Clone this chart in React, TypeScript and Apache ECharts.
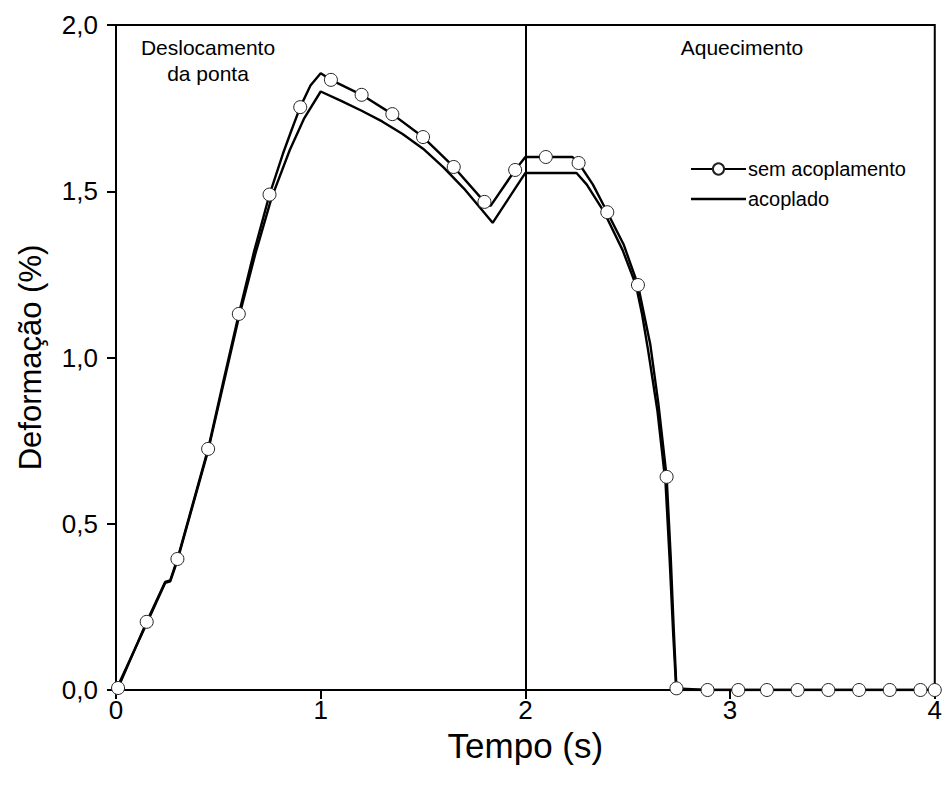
import React, { useEffect, useRef } from "react";
import * as echarts from "echarts";

// "sem acoplamento": marker points (open circles)
const semMarkX = [0.01, 0.15, 0.30, 0.45, 0.60, 0.75, 0.90, 1.05, 1.20, 1.35, 1.50, 1.65, 1.80, 1.95, 2.10, 2.26, 2.40, 2.55, 2.69, 2.738, 2.89, 3.04, 3.18, 3.33, 3.48, 3.63, 3.78, 3.93, 4.0];
const semMarkY = [0.006, 0.205, 0.394, 0.725, 1.131, 1.49, 1.753, 1.835, 1.79, 1.732, 1.663, 1.573, 1.468, 1.564, 1.603, 1.585, 1.437, 1.218, 0.641, 0.005, 0, 0, 0, 0, 0, 0, 0, 0, 0];
// "sem acoplamento": extra line vertices (no marker)
const semLineX = [0, 0.24, 0.265, 0.525, 0.675, 0.815, 0.86, 0.95, 1.0, 1.83, 2.0, 2.23, 2.33, 2.48, 2.61, 2.65, 2.71, 2.725];
const semLineY = [0, 0.325, 0.33, 0.93, 1.32, 1.612, 1.688, 1.818, 1.855, 1.456, 1.603, 1.603, 1.52, 1.34, 1.04, 0.86, 0.40, 0.18];

// "acoplado": line vertices
const acoX = [0, 0.15, 0.24, 0.265, 0.30, 0.45, 0.60, 0.68, 0.76, 0.849, 0.92, 1.0, 1.1, 1.2, 1.3, 1.4, 1.5, 1.6, 1.7, 1.84, 2.0, 2.25, 2.3, 2.385, 2.475, 2.54, 2.57, 2.6, 2.645, 2.685, 2.705, 2.722, 2.737, 4.0];
const acoY = [0, 0.2, 0.322, 0.327, 0.39, 0.72, 1.12, 1.31, 1.48, 1.624, 1.72, 1.80, 1.772, 1.742, 1.71, 1.672, 1.628, 1.572, 1.508, 1.405, 1.555, 1.555, 1.52, 1.437, 1.323, 1.218, 1.13, 1.02, 0.84, 0.62, 0.39, 0.17, 0, 0];

const xTicks = [0, 1, 2, 3, 4];
const yTicks = [0, 0.5, 1.0, 1.5, 2.0];
const phaseBoundary = 2;

const FONT = "Liberation Sans, Arial, sans-serif";

export default function App() {
  const ref = useRef<HTMLDivElement>(null);
  useEffect(() => {
    if (!ref.current) return;
    const chart = echarts.init(ref.current, undefined, { renderer: "svg" });

    const pts: { x: number; y: number; m: boolean }[] = [];
    semMarkX.forEach((x, i) => pts.push({ x, y: semMarkY[i], m: true }));
    semLineX.forEach((x, i) => pts.push({ x, y: semLineY[i], m: false }));
    pts.sort((a, b) => a.x - b.x);
    const semData = pts.map((p) =>
      p.m ? { value: [p.x, p.y] } : { value: [p.x, p.y], symbol: "none" }
    );
    const acoData = acoX.map((x, i) => [x, acoY[i]]);

    chart.setOption({
      animation: false,
      backgroundColor: "#fff",
      grid: {
        left: 116,
        right: 9,
        top: 25,
        bottom: 108,
        show: true,
        borderColor: "#000",
        borderWidth: 2,
      },
      legend: {
        orient: "vertical",
        left: 690,
        top: 159,
        itemWidth: 55,
        itemHeight: 14,
        itemGap: 10,
        padding: 0,
        textStyle: { fontFamily: FONT, fontSize: 20, color: "#000", padding: [0, 0, 0, -3] },
        data: [
          { name: "sem acoplamento" },
          { name: "acoplado", icon: "path://M0,0 L55,0 L55,2.4 L0,2.4 Z" },
        ],
      },
      xAxis: {
        type: "value",
        min: xTicks[0],
        max: xTicks[xTicks.length - 1],
        interval: 1,
        name: "Tempo (s)",
        nameLocation: "middle",
        nameGap: 37,
        nameTextStyle: { fontFamily: FONT, fontSize: 35, color: "#000" },
        axisLine: { lineStyle: { color: "#000", width: 2 } },
        axisTick: { inside: false, length: 9, lineStyle: { color: "#000", width: 2 } },
        axisLabel: { fontFamily: FONT, fontSize: 26, color: "#000", margin: 7 },
        splitLine: { show: false },
      },
      yAxis: {
        type: "value",
        min: yTicks[0],
        max: yTicks[yTicks.length - 1],
        interval: 0.5,
        name: "Deformação (%)",
        nameLocation: "middle",
        nameGap: 70,
        nameTextStyle: { fontFamily: FONT, fontSize: 31, color: "#000" },
        axisLine: { lineStyle: { color: "#000", width: 2 } },
        axisTick: { inside: false, length: 9, lineStyle: { color: "#000", width: 2 } },
        axisLabel: {
          fontFamily: FONT,
          fontSize: 26,
          color: "#000",
          margin: 18,
          formatter: (v: number) => v.toFixed(1).replace(".", ","),
        },
        splitLine: { show: false },
      },
      series: [
        {
          name: "sem acoplamento",
          type: "line",
          data: semData,
          symbol: "circle",
          symbolSize: 13,
          showSymbol: true,
          showAllSymbol: true,
          lineStyle: { color: "#000", width: 2.4 },
          itemStyle: { color: "#fff", borderColor: "#222", borderWidth: 1 },
          z: 3,
        },
        {
          name: "acoplado",
          type: "line",
          data: acoData,
          symbol: "none",
          lineStyle: { color: "#000", width: 2.4 },
          itemStyle: { color: "#000" },
          z: 2,
          markLine: {
            silent: true,
            symbol: "none",
            label: { show: false },
            lineStyle: { color: "#000", width: 2, type: "solid" },
            data: [{ xAxis: phaseBoundary }],
          },
        },
      ],
      graphic: [
        {
          type: "text",
          x: 208,
          y: 34,
          style: {
            text: "Deslocamento\nda ponta",
            fontFamily: FONT,
            fontSize: 21,
            fill: "#000",
            align: "center",
            lineHeight: 26,
          },
        },
        {
          type: "text",
          x: 742,
          y: 34,
          style: { text: "Aquecimento", fontFamily: FONT, fontSize: 21, fill: "#000", align: "center", lineHeight: 26 },
        },
      ],
    });
    return () => chart.dispose();
  }, []);
  return (
    <div
      ref={ref}
      style={{ position: "fixed", left: 0, top: 0, width: 945, height: 798, background: "#fff" }}
    />
  );
}
